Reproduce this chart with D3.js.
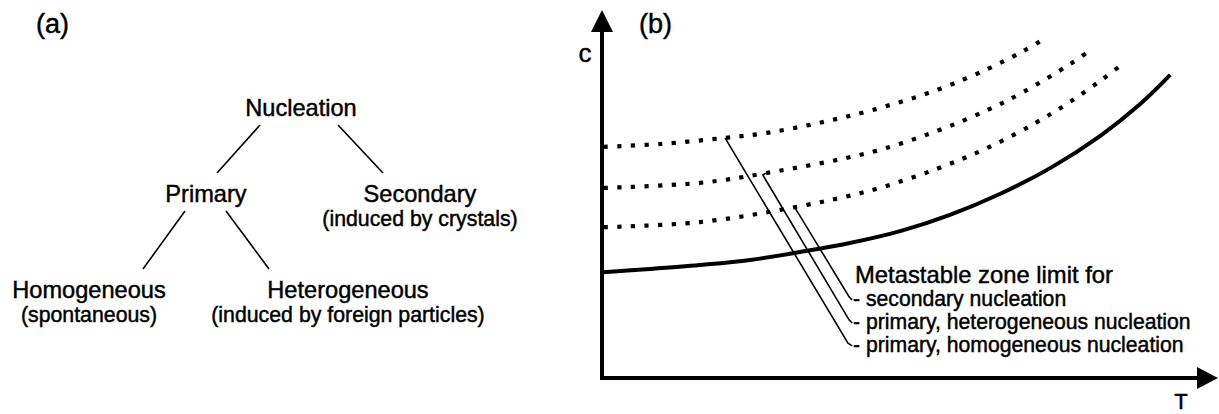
<!DOCTYPE html>
<meta charset="utf-8">
<title>Nucleation and metastable zone</title>
<script src="https://d3js.org/d3.v7.min.js"></script>
<style>
    body { margin: 0; background: #fff; }
    /* slight outline gives the heavier look of the original lettering */
    svg text { font-family: "Liberation Sans", Arial, sans-serif; fill: #000; stroke: #000; stroke-width: 0.45px; }
</style>
<body>
<script>
    // ---- Panel (a): classification tree ----
    const treeNodes = ["Nucleation", "Primary", "Secondary", "Homogeneous", "Heterogeneous"];
    const treeNotes = ["", "", "(induced by crystals)", "(spontaneous)", "(induced by foreign particles)"];
    const treeLinks = [["Nucleation", "Primary"], ["Nucleation", "Secondary"],
                       ["Primary", "Homogeneous"], ["Primary", "Heterogeneous"]];

    // ---- Panel (b): c over T, arbitrary units 0..100 ----
    const solubility = [[0.2, 29.4], [8, 30.3], [16.3, 31.4], [24.7, 32.8], [33, 35], [41.3, 37.5],
                        [49.7, 40.8], [58, 45.3], [66.3, 51.1], [74.7, 58.3], [83, 67.2], [89.7, 76.1], [94.7, 84.2]];
    const limitHomogeneous = [[0.3, 64.2], [9.7, 65], [20.5, 66.7], [27.5, 68.1], [36, 70.8], [45, 74.4],
                              [55.8, 80], [64.2, 85.8], [70.2, 90.8], [74.2, 94.7]];
    const limitHeterogeneous = [[0.3, 52.8], [16.3, 54.2], [27.3, 56.9], [45, 62.8], [55.8, 68.6],
                                [64.2, 74.4], [70.2, 79.4], [78, 87.2], [81.7, 91.4]];
    const limitSecondary = [[0.3, 41.9], [16.3, 43.3], [32.3, 47.5], [45, 52.2], [55.8, 58.1], [64.2, 63.9],
                            [72.2, 70.8], [78, 76.7], [83.5, 83.1], [87.2, 87.8]];
    // leader lines from each limit curve to its label
    const leaders = [
        [[20.5, 66.7], [41, 9.7], [41.7, 8.9]],
        [[27.3, 56.9], [26.8, 56.4], [41.2, 16.1], [41.7, 15.3]],
        [[32.5, 47.5], [32.2, 47.2], [41.2, 22.5], [41.7, 21.7]]
    ];
    const legendTitle = "Metastable zone limit for";
    const legendItems = ["- secondary nucleation", "- primary, heterogeneous nucleation", "- primary, homogeneous nucleation"];

    const width = 1219, height = 414;

    const svg = d3.select("body").append("svg")
        .attr("width", width)
        .attr("height", height);

    // ---------- panel (a) ----------
    const a = svg.append("g").attr("id", "panelA");
    a.append("text").attr("x", 36).attr("y", 33).style("font-size", "27px").text("(a)");

    // label centres and baselines
    const nodePos = {
        Nucleation:    {x: 301, y: 116},
        Primary:       {x: 206, y: 202},
        Secondary:     {x: 420, y: 202},
        Homogeneous:   {x: 89,  y: 298},
        Heterogeneous: {x: 348, y: 298}
    };
    // where each link leaves the parent / reaches the child (x offsets)
    const linkEnds = {
        "Nucleation-Primary":      [-41, 11],
        "Nucleation-Secondary":    [37, -37],
        "Primary-Homogeneous":     [-21, 54],
        "Primary-Heterogeneous":   [20, -79]
    };

    a.selectAll("line")
        .data(treeLinks)
        .enter()
        .append("line")
        .attr("x1", d => nodePos[d[0]].x + linkEnds[d.join("-")][0])
        .attr("y1", d => nodePos[d[0]].y + 9)
        .attr("x2", d => nodePos[d[1]].x + linkEnds[d.join("-")][1])
        .attr("y2", d => nodePos[d[1]].y - 29)
        .attr("stroke", "#000")
        .attr("stroke-width", 1.6);

    treeNodes.forEach((name, i) => {
        const p = nodePos[name];
        a.append("text")
            .attr("x", p.x).attr("y", p.y)
            .attr("text-anchor", "middle")
            .style("font-size", "23.6px")
            .text(name);
        if (treeNotes[i]) {
            a.append("text")
                .attr("x", p.x).attr("y", p.y + 24)
                .attr("text-anchor", "middle")
                .style("font-size", "21.3px")
                .text(treeNotes[i]);
        }
    });

    // ---------- panel (b) ----------
    const b = svg.append("g").attr("id", "panelB");
    const xScale = d3.scaleLinear().domain([0, 100]).range([602, 1202]);
    const yScale = d3.scaleLinear().domain([0, 100]).range([378, 18]);

    const line = d3.line()
        .x(d => xScale(d[0]))
        .y(d => yScale(d[1]))
        .curve(d3.curveCatmullRom.alpha(0.5));

    // dotted metastable limits
    [limitHomogeneous, limitHeterogeneous, limitSecondary].forEach(pts => {
        b.append("path")
            .attr("d", line(pts))
            .attr("fill", "none")
            .attr("stroke", "#000")
            .attr("stroke-width", 4.2)
            .attr("stroke-dasharray", "4.2 9.4");
    });

    // solubility curve
    b.append("path")
        .attr("d", line(solubility))
        .attr("fill", "none")
        .attr("stroke", "#000")
        .attr("stroke-width", 4);

    // leaders
    const straight = d3.line().x(d => xScale(d[0])).y(d => yScale(d[1]));
    b.selectAll(".leader")
        .data(leaders)
        .enter()
        .append("path")
        .attr("class", "leader")
        .attr("d", straight)
        .attr("fill", "none")
        .attr("stroke", "#000")
        .attr("stroke-width", 1.6);

    // axes with arrow heads
    const x0 = xScale(0), y0 = yScale(0);
    b.append("line")
        .attr("x1", x0).attr("y1", 30).attr("x2", x0).attr("y2", y0 + 2)
        .attr("stroke", "#000").attr("stroke-width", 4);
    b.append("line")
        .attr("x1", x0 - 2).attr("y1", y0).attr("x2", 1200).attr("y2", y0)
        .attr("stroke", "#000").attr("stroke-width", 4);
    b.append("path")
        .attr("d", `M${x0},10 L${x0 - 11},32 L${x0 + 11},32 Z`);
    b.append("path")
        .attr("d", `M1218,${y0} L1197,${y0 - 11} L1197,${y0 + 11} Z`);

    b.append("text").attr("x", 585).attr("y", 62).attr("text-anchor", "middle").style("font-size", "26px").text("c");
    b.append("text").attr("x", 1181).attr("y", 409).attr("text-anchor", "middle").style("font-size", "22px").text("T");
    b.append("text").attr("x", 639).attr("y", 33).style("font-size", "27px").text("(b)");

    // legend
    b.append("text").attr("x", 855).attr("y", 283).style("font-size", "23.8px").text(legendTitle);
    b.selectAll(".item")
        .data(legendItems)
        .enter()
        .append("text")
        .attr("class", "item")
        .attr("x", 853)
        .attr("y", (d, i) => 306 + i * 23)
        .style("font-size", "21.2px")
        .text(d => d);
</script>
</body>
